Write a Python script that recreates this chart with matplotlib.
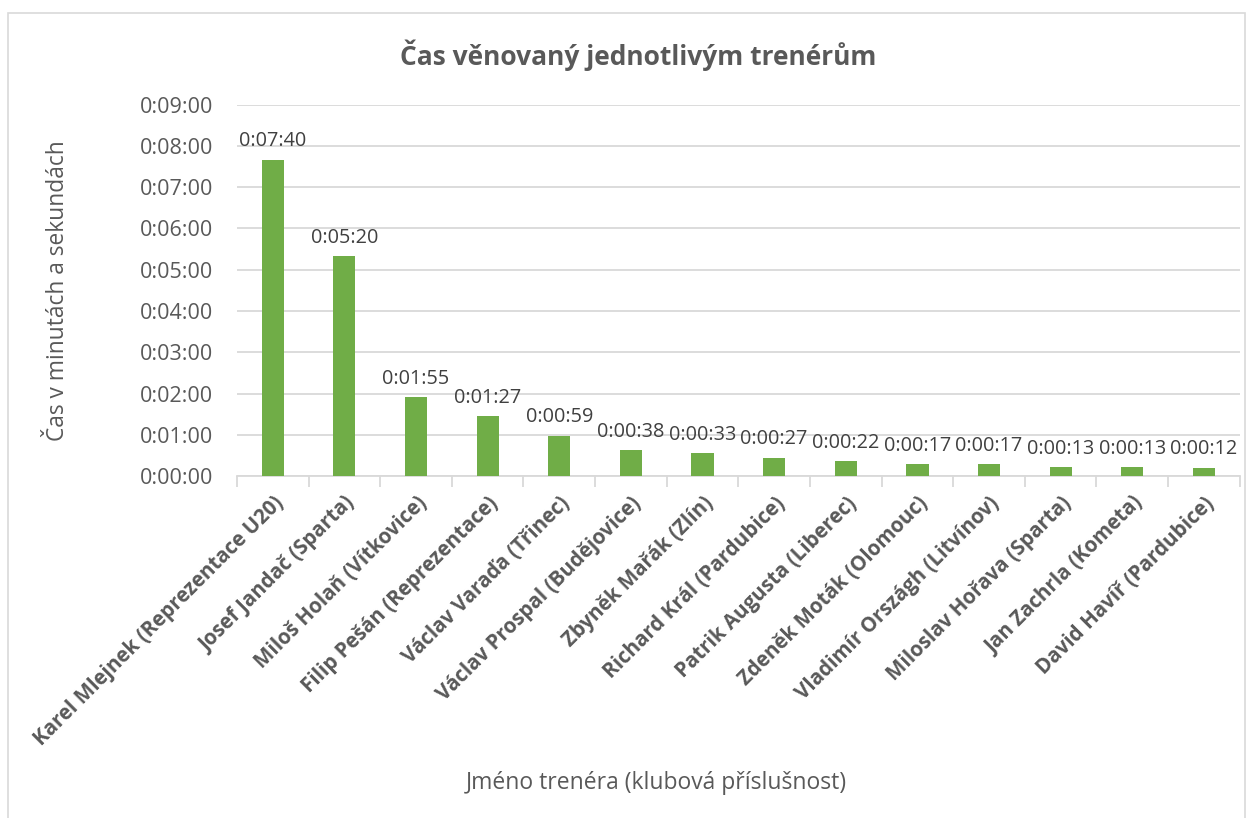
import matplotlib.pyplot as plt
import matplotlib.patches as patches
from matplotlib.ticker import FuncFormatter, MultipleLocator, FixedLocator
import numpy as np

plt.rcParams['font.family'] = ['Open Sans', 'DejaVu Sans']

trainers = [
    'Karel Mlejnek (Reprezentace U20)', 'Josef Jandač (Sparta)',
    'Miloš Holaň (Vítkovice)', 'Filip Pešán (Reprezentace)',
    'Václav Varaďa (Třinec)', 'Václav Prospal (Budějovice)',
    'Zbyněk Mařák (Zlín)', 'Richard Král (Pardubice)',
    'Patrik Augusta (Liberec)', 'Zdeněk Moták (Olomouc)',
    'Vladimír Országh (Litvínov)', 'Miloslav Hořava (Sparta)',
    'Jan Zachrla (Kometa)', 'David Havíř (Pardubice)',
]
seconds = [460, 320, 115, 87, 59, 38, 33, 27, 22, 17, 17, 13, 13, 12]

text_color = '#595959'
bar_color = '#70AD47'
grid_color = '#D9D9D9'


def fmt_time(s, pos=None):
    s = int(round(s))
    return '%d:%02d:%02d' % (s // 3600, (s % 3600) // 60, s % 60)


fig = plt.figure(figsize=(12.51, 8.18), dpi=100)
ax = fig.add_axes([0.1894, 0.418, 0.8016, 0.454])

x = np.arange(len(trainers))
bars = ax.bar(x, seconds, width=0.31, color=bar_color, zorder=3)

for xi, s in zip(x, seconds):
    ax.annotate(fmt_time(s), (xi, s), xytext=(0, 6), textcoords='offset points',
                ha='center', va='bottom', fontsize=14.3, color='#404040')

ax.set_ylim(0, 540)
ax.set_xlim(-0.5, len(trainers) - 0.5)
ax.yaxis.set_major_locator(MultipleLocator(60))
ax.yaxis.set_major_formatter(FuncFormatter(fmt_time))
ax.grid(axis='y', color=grid_color, linewidth=1.3, zorder=0)

ax.set_xticks(x)
ax.set_xticklabels(trainers, rotation=45, ha='right', rotation_mode='anchor',
                   fontsize=14.8, fontweight='bold', color=text_color)
ax.xaxis.set_minor_locator(FixedLocator(np.arange(-0.5, len(trainers), 1.0)))
ax.tick_params(axis='x', which='major', length=0, pad=12)
ax.tick_params(axis='x', which='minor', length=8, color=grid_color, width=1.3)
ax.tick_params(axis='y', length=0, labelsize=15.5, labelcolor=text_color, pad=17)

for side in ['top', 'right', 'left']:
    ax.spines[side].set_visible(False)
ax.spines['bottom'].set_color(grid_color)
ax.spines['bottom'].set_linewidth(1.3)

fig.text(0.51, 0.933, 'Čas věnovaný jednotlivým trenérům', ha='center', va='center',
         fontsize=19, fontweight='bold', color=text_color)
fig.text(0.046, 0.645, 'Čas v minutách a sekundách', ha='center', va='center',
         rotation=90, fontsize=16.4, color=text_color)
fig.text(0.525, 0.043, 'Jméno trenéra (klubová příslušnost)', ha='center', va='center',
         fontsize=16.5, color=text_color)

fig.patches.append(patches.Rectangle((0.006, -0.01), 0.989, 0.994, transform=fig.transFigure,
                                     fill=False, edgecolor=grid_color, linewidth=1.2))

fig.savefig('out.png', dpi=100, facecolor='white')
